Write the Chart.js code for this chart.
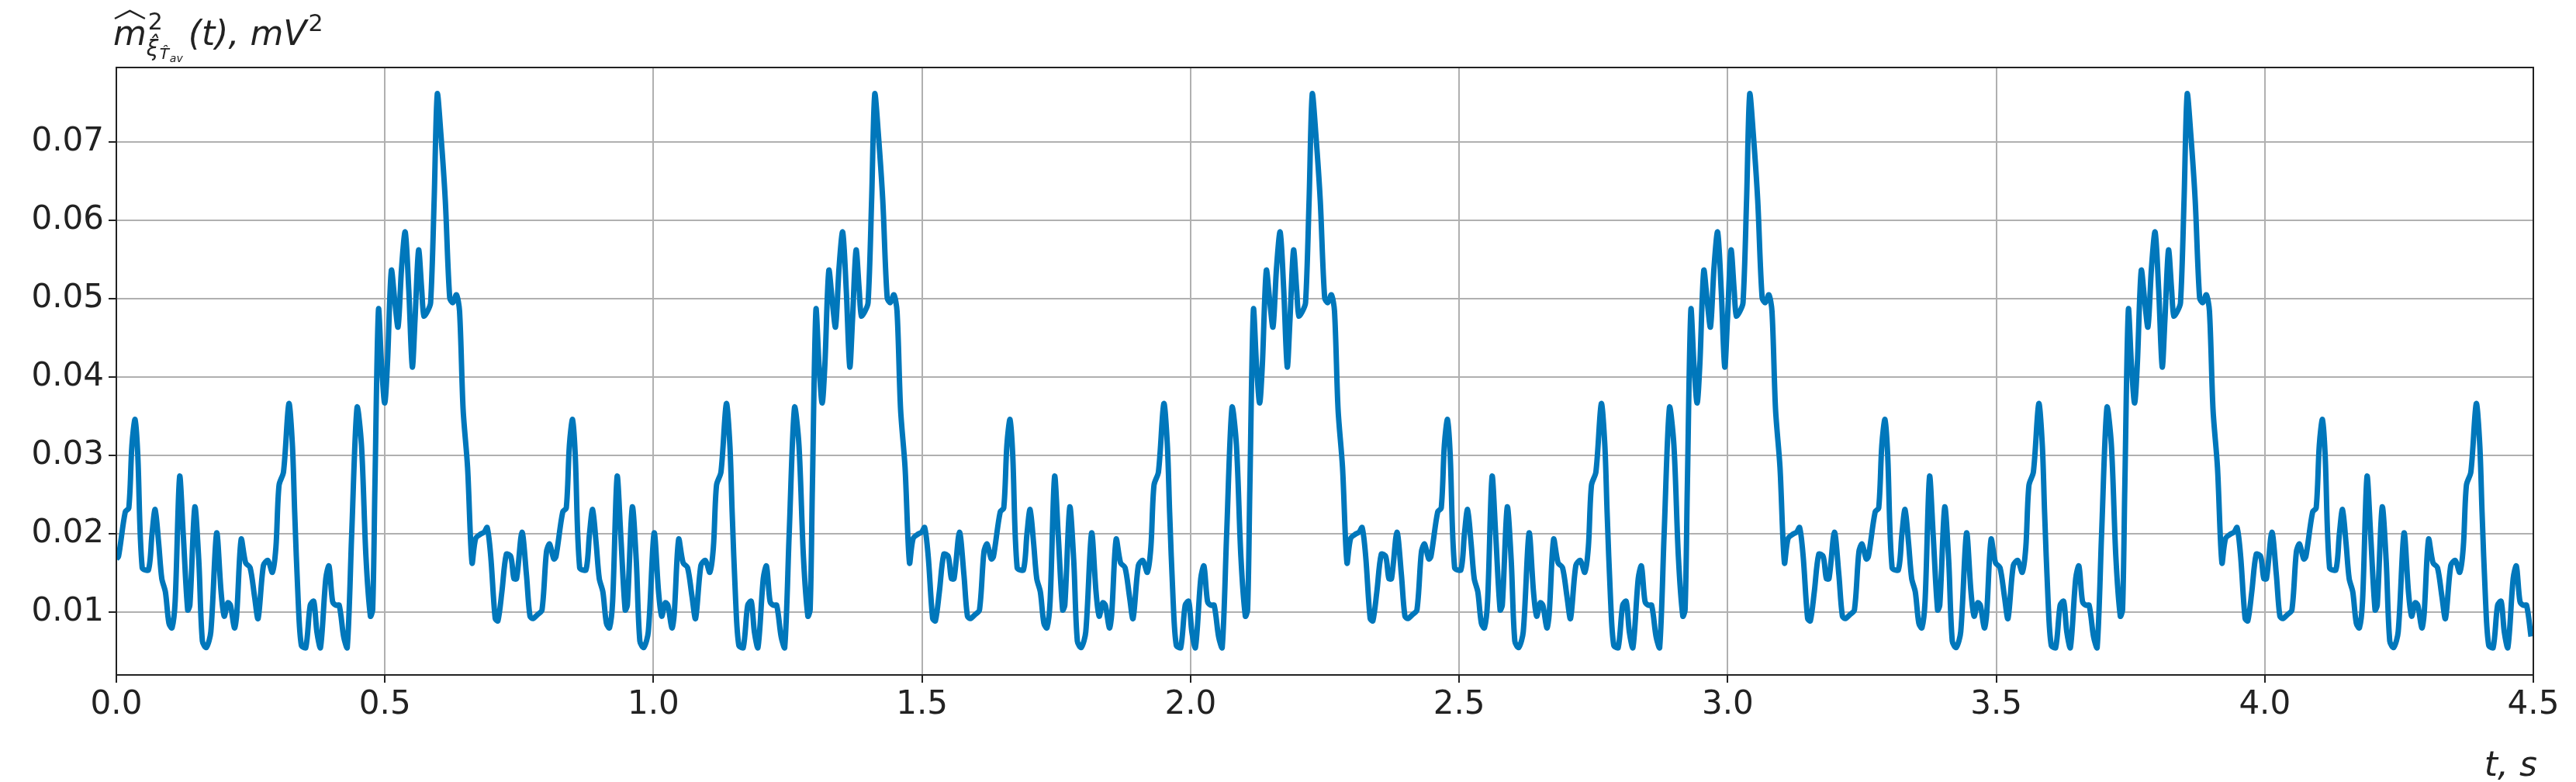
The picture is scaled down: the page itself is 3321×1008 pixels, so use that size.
<!DOCTYPE html>
<html>
<head>
<meta charset="utf-8">
<script src="https://cdn.jsdelivr.net/npm/chart.js@4"></script>
<style>
  html, body { margin: 0; padding: 0; background: #fff; }
  #wrap { width: 3321px; height: 1008px; }
</style>
</head>
<body>
<div id="wrap"><canvas id="c"></canvas></div>
<script>
// one period of the signal (t in s, value in mV^2)
const PERIOD = 0.8145;
const periodT = [0, .004, .0166, .0232, .029, .0349, .0398, .0481, .0598, .0664, .0722, .0788, .0846, .0913, .0979, .1037, .1095, .1178, .1245, .1328, .1369, .1461, .1535, .1602, .1676, .1759, .1867, .195, .2008, .2075, .2124, .2199, .2241, .2324, .2407, .249, .2573, .2639, .2739, .2822, .2905, .2971, .3029, .3112, .3212, .3278, .332, .3386, .3444, .3527, .361, .3676, .3734, .3801, .39, .3959, .4025, .4083, .4149, .4232, .4299, .4382, .4481, .4564, .4647, .473, .4772, .4813, .488, .4938, .4996, .5046, .512, .5187, .5245, .5311, .5378, .5444, .551, .556, .5627, .5685, .5726, .5793, .5851, .5917, .5975, .6041, .6124, .6207, .6266, .6332, .639, .6456, .6539, .6622, .6689, .6788, .6846, .6905, .6971, .7054, .7104, .7178, .7261, .7344, .7402, .7452, .7552, .7635, .7701, .7759, .7842, .7925, .8008, .8066];
const periodV = [.0168, .0171, .0228, .0233, .0313, .0346, .0302, .0157, .0154, .02, .0231, .0188, .0143, .0126, .0086, .008, .0114, .0273, .02, .0103, .0109, .0234, .0166, .0063, .0055, .0075, .0201, .0126, .0095, .0112, .0109, .008, .0097, .0193, .0163, .0157, .012, .0092, .016, .0166, .0151, .0183, .0262, .0279, .0366, .0313, .0228, .0114, .0058, .0055, .0109, .0114, .0075, .0055, .0143, .0159, .0114, .0109, .0109, .0069, .0055, .02, .0361, .0313, .0171, .0095, .0103, .0256, .0486, .0415, .0367, .0415, .0536, .0495, .0464, .054, .0585, .0512, .0413, .0472, .0562, .0512, .0478, .0484, .0495, .0626, .0761, .0711, .0626, .0501, .0495, .0505, .0484, .0359, .0285, .0163, .0194, .02, .0202, .0208, .0171, .0092, .0089, .0126, .0174, .0171, .0143, .0143, .0202, .0148, .0095, .0092, .0097, .0103, .0177, .0187];
const xTicks = [0, 0.5, 1, 1.5, 2, 2.5, 3, 3.5, 4, 4.5];
const yTicks = [0.01, 0.02, 0.03, 0.04, 0.05, 0.06, 0.07];

// the record repeats the same period over 0..4.5 s
const points = [];
for (let k = 0; k * PERIOD <= 4.5; k++) {
  periodT.forEach((t, i) => {
    const x = t + k * PERIOD;
    if (x <= 4.5) points.push({ x, y: periodV[i] });
  });
}

const FONT = "DejaVu Sans";
const TEXT = "#222";

const labels = {
  id: "labels",
  afterDraw(chart) {
    const ctx = chart.ctx;
    const a = chart.chartArea;
    ctx.save();
    ctx.fillStyle = TEXT;
    ctx.strokeStyle = TEXT;
    ctx.textBaseline = "alphabetic";
    // y axis label: hat m^2 with subscript xi T_av, then (t), mV^2
    let x = 146, y = 58;
    ctx.font = "italic 44px " + FONT;
    ctx.fillText("m", x, y);
    const mw = ctx.measureText("m").width;
    ctx.beginPath();
    ctx.lineWidth = 2.5;
    ctx.moveTo(x + 2, y - 34); ctx.lineTo(x + mw / 2, y - 44); ctx.lineTo(x + mw - 2, y - 34);
    ctx.stroke();
    ctx.font = "30px " + FONT;
    ctx.fillText("2", x + mw + 2, y - 20);
    ctx.font = "italic 28px " + FONT;
    ctx.fillText("\u03BE\u0302", x + mw, y + 14);
    ctx.font = "italic 20px " + FONT;
    ctx.fillText("T\u0302", x + mw + 17, y + 18);
    ctx.font = "italic 14px " + FONT;
    ctx.fillText("av", x + mw + 30, y + 22);
    ctx.font = "italic 44px " + FONT;
    ctx.fillText("(t), mV", x + mw + 54, y);
    const w2 = ctx.measureText("(t), mV").width;
    ctx.font = "30px " + FONT;
    ctx.fillText("2", x + mw + 56 + w2, y - 18);
    // x axis label
    ctx.font = "italic 44px " + FONT;
    ctx.textAlign = "right";
    ctx.fillText("t, s", a.right + 5, 1000);
    ctx.restore();
  }
};

new Chart(document.getElementById("c"), {
  type: "line",
  data: {
    datasets: [{
      data: points,
      borderColor: "#0077bb",
      borderWidth: 7,
      pointRadius: 0,
      tension: 0.3,
      fill: false
    }]
  },
  options: {
    responsive: true,
    maintainAspectRatio: false,
    animation: false,
    layout: { padding: { top: 87, right: 55, left: 0, bottom: 0 } },
    plugins: { legend: { display: false }, tooltip: { enabled: false } },
    scales: {
      x: {
        type: "linear",
        min: 0, max: 4.5,
        afterBuildTicks: (s) => { s.ticks = xTicks.map((v) => ({ value: v })); },
        afterFit: (s) => { s.height = 138; },
        ticks: { color: TEXT, font: { family: FONT, size: 42 }, padding: 4, maxRotation: 0,
          callback: (v) => v.toFixed(1) },
        grid: { color: "#b0b0b0", lineWidth: 2, tickLength: 10, tickColor: TEXT, tickWidth: 2 },
        border: { color: TEXT, width: 2 }
      },
      y: {
        min: 0.002, max: 0.0795,
        afterBuildTicks: (s) => { s.ticks = yTicks.map((v) => ({ value: v })); },
        afterFit: (s) => { s.width = 150; },
        ticks: { color: TEXT, font: { family: FONT, size: 42 }, padding: 6,
          callback: (v) => v.toFixed(2) },
        grid: { color: "#b0b0b0", lineWidth: 2, tickLength: 10, tickColor: TEXT, tickWidth: 2 },
        border: { color: TEXT, width: 2 }
      }
    }
  },
  plugins: [labels, {
    id: "frame",
    afterDraw(chart) {
      const a = chart.chartArea, ctx = chart.ctx;
      ctx.save();
      ctx.strokeStyle = TEXT; ctx.lineWidth = 2;
      ctx.strokeRect(a.left, a.top, a.right - a.left, a.bottom - a.top);
      ctx.restore();
    }
  }]
});
</script>
</body>
</html>
